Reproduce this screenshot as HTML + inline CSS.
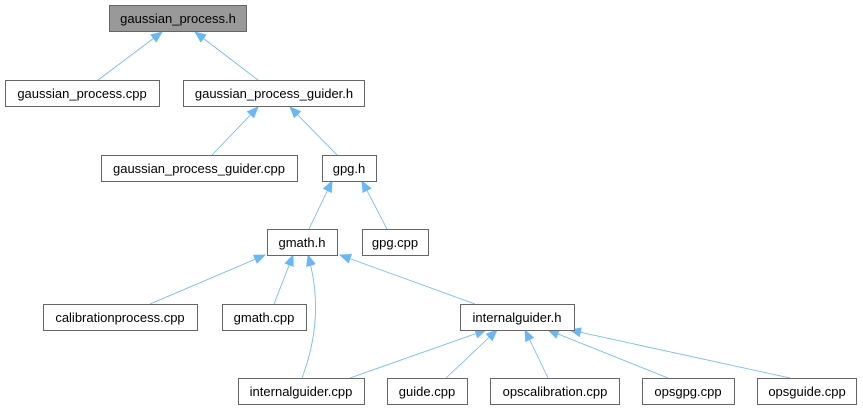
<!DOCTYPE html>
<html><head><meta charset="utf-8"><style>
html,body{margin:0;padding:0;background:#fff;width:863px;height:411px;overflow:hidden}
text{font-family:"Liberation Sans",Arial,sans-serif;font-size:13px;fill:#000}
</style></head><body>
<svg width="863" height="411" viewBox="0 0 863 411" xmlns="http://www.w3.org/2000/svg">
<defs><marker id="a" markerWidth="12" markerHeight="10" refX="11" refY="5" orient="auto" markerUnits="userSpaceOnUse"><path d="M0,0 L12,5 L0,10 Z" fill="#63b8ff"/></marker></defs>
<g stroke="#63b8ff" stroke-width="0.8" fill="none" marker-end="url(#a)">
<line x1="98" y1="80" x2="162" y2="32"/>
<line x1="258" y1="80" x2="195" y2="32"/>
<line x1="212" y1="155" x2="258" y2="107"/>
<line x1="337" y1="155" x2="290" y2="107"/>
<line x1="309" y1="229" x2="332" y2="181"/>
<line x1="387" y1="229" x2="362" y2="181"/>
<line x1="150" y1="304" x2="265" y2="255"/>
<line x1="274" y1="304" x2="293" y2="255"/>
<path d="M302,378 C320,330 318,290 308,255"/>
<line x1="475" y1="304" x2="340" y2="255"/>
<line x1="350" y1="378" x2="486" y2="330"/>
<line x1="446" y1="378" x2="497" y2="330"/>
<line x1="548" y1="378" x2="525" y2="330"/>
<line x1="668" y1="378" x2="548" y2="330"/>
<line x1="790" y1="378" x2="570" y2="330"/>
</g>
<g stroke="#666" stroke-width="1">
<rect x="109.5" y="5.5" width="137" height="26" fill="#999"/>
<rect x="5.5" y="80.5" width="154" height="26" fill="#fff"/>
<rect x="183.5" y="80.5" width="181" height="26" fill="#fff"/>
<rect x="101.5" y="155.5" width="196" height="26" fill="#fff"/>
<rect x="322.5" y="155.5" width="54" height="26" fill="#fff"/>
<rect x="267.5" y="229.5" width="70" height="26" fill="#fff"/>
<rect x="362.5" y="229.5" width="66" height="26" fill="#fff"/>
<rect x="43.5" y="304.5" width="154" height="26" fill="#fff"/>
<rect x="222.5" y="304.5" width="84" height="26" fill="#fff"/>
<rect x="460.5" y="304.5" width="114" height="26" fill="#fff"/>
<rect x="238.5" y="378.5" width="126" height="26" fill="#fff"/>
<rect x="387.5" y="378.5" width="80" height="26" fill="#fff"/>
<rect x="490.5" y="378.5" width="129" height="26" fill="#fff"/>
<rect x="642.5" y="378.5" width="92" height="26" fill="#fff"/>
<rect x="757.5" y="378.5" width="99" height="26" fill="#fff"/>
</g>
<g text-anchor="middle">
<text x="178" y="23">gaussian_process.h</text>
<text x="82" y="98">gaussian_process.cpp</text>
<text x="274" y="98">gaussian_process_guider.h</text>
<text x="199" y="173">gaussian_process_guider.cpp</text>
<text x="349" y="173">gpg.h</text>
<text x="302" y="247">gmath.h</text>
<text x="395" y="247">gpg.cpp</text>
<text x="120" y="322">calibrationprocess.cpp</text>
<text x="264" y="322">gmath.cpp</text>
<text x="517" y="322">internalguider.h</text>
<text x="301" y="396">internalguider.cpp</text>
<text x="427" y="396">guide.cpp</text>
<text x="555" y="396">opscalibration.cpp</text>
<text x="688" y="396">opsgpg.cpp</text>
<text x="807" y="396">opsguide.cpp</text>
</g>
</svg>
</body></html>
